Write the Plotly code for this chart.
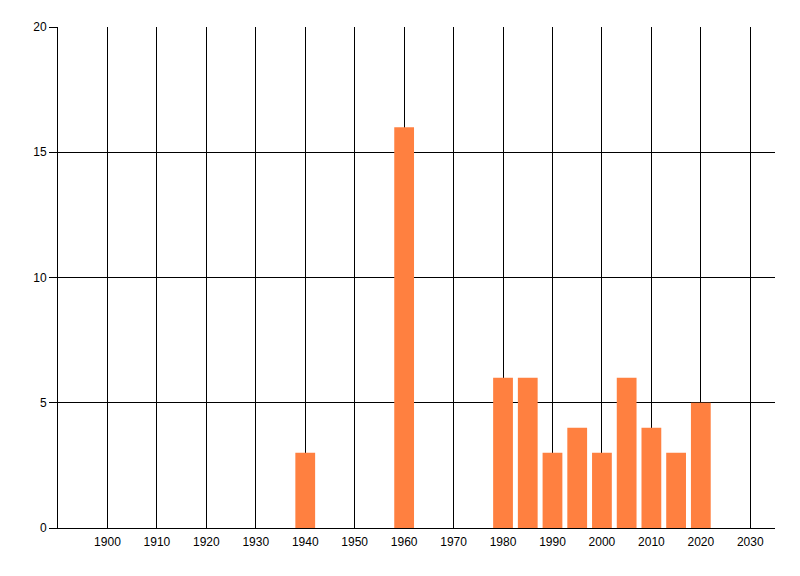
import plotly.graph_objects as go

years = [1940, 1960, 1980, 1985, 1990, 1995, 2000, 2005, 2010, 2015, 2020]
counts = [3, 16, 6, 6, 3, 4, 3, 6, 4, 3, 5]
x_ticks = list(range(1900, 2031, 10))
y_ticks = [0, 5, 10, 15, 20]

fig = go.Figure(go.Bar(x=years, y=counts, width=4, marker=dict(color="#FF8040", line=dict(width=0))))

font = dict(family="Liberation Sans, Arial, sans-serif", size=12, color="black")
fig.update_layout(
    width=800, height=576,
    margin=dict(l=50, r=33, t=19, b=56, autoexpand=False),
    plot_bgcolor="white", paper_bgcolor="white",
    showlegend=False, font=font,
)
fig.update_xaxes(
    range=[1890, 2035], tickvals=x_ticks, ticktext=[str(v) for v in x_ticks],
    showgrid=True, gridcolor="black", gridwidth=1,
    showline=True, linecolor="black", linewidth=1,
    ticks="", zeroline=False, tickfont=font, automargin=False,
    ticklabelstandoff=3,
)
fig.update_yaxes(
    range=[0, 20], tickvals=y_ticks,
    showgrid=True, gridcolor="black", gridwidth=1,
    showline=True, linecolor="black", linewidth=1,
    ticks="outside", ticklen=8, tickcolor="black", tickwidth=1,
    zeroline=False, tickfont=font, automargin=False,
)
fig.write_html("out.html")
